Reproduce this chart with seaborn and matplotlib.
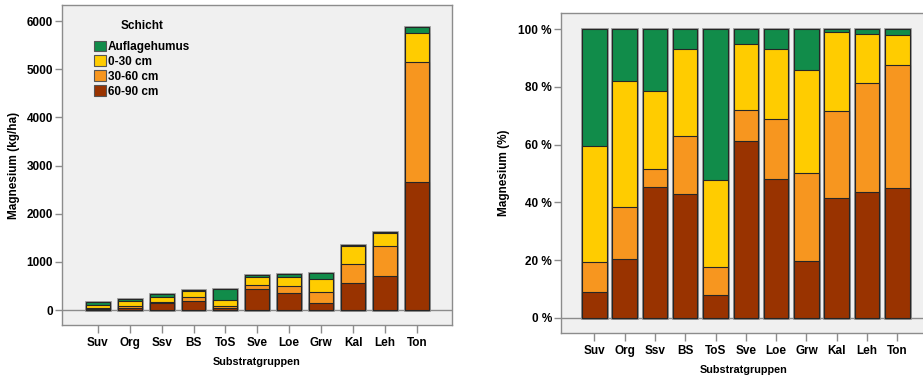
import matplotlib
matplotlib.use("Agg")
import matplotlib.pyplot as plt
import numpy as np
import pandas as pd
import seaborn as sns
from matplotlib.patches import Patch

# ---- data ----
categories = ["Suv", "Org", "Ssv", "BS", "ToS", "Sve", "Loe", "Grw", "Kal", "Leh", "Ton"]
layer_names = ["Auflagehumus", "0-30 cm", "30-60 cm", "60-90 cm"]
mg_60_90 = [15, 47, 154, 178, 36, 443, 356, 150, 560, 704, 2650]
mg_30_60 = [17, 41, 21, 84, 42, 76, 153, 232, 402, 615, 2497]
mg_0_30 = [67, 100, 91, 125, 133, 165, 181, 272, 368, 274, 611]
mg_humus = [67, 41, 73, 28, 232, 37, 50, 107, 13, 26, 118]
abs_ticks = [0, 1000, 2000, 3000, 4000, 5000, 6000]
pct_ticks = [0, 20, 40, 60, 80, 100]
pct_labels = ["0 %", "20 %", "40 %", "60 %", "80 %", "100 %"]

layer_colors = {"Auflagehumus": "#118c4a", "0-30 cm": "#ffcc00",
                "30-60 cm": "#f7961f", "60-90 cm": "#993300"}

df = pd.DataFrame({"Substratgruppen": categories,
                   "60-90 cm": mg_60_90, "30-60 cm": mg_30_60,
                   "0-30 cm": mg_0_30, "Auflagehumus": mg_humus})
stack_order = ["60-90 cm", "30-60 cm", "0-30 cm", "Auflagehumus"]
cum = df[stack_order].cumsum(axis=1)
total = cum["Auflagehumus"]
pct = cum.div(total, axis=0) * 100

plt.rcParams["font.family"] = ["Liberation Sans", "DejaVu Sans"]
plt.rcParams["font.weight"] = "bold"
plt.rcParams["axes.labelweight"] = "bold"

fig = plt.figure(figsize=(9.23, 3.77), dpi=100)
fig.patch.set_facecolor("white")
ax1 = fig.add_axes([0.0672, 0.1379, 0.4225, 0.8488])
ax2 = fig.add_axes([0.6078, 0.1167, 0.3955, 0.8488])

frame_col = "#8c8c8c"
edge_dark = "#262626"


def draw_stack(ax, values, width):
    plot_df = values.copy()
    plot_df["Substratgruppen"] = categories
    # halo around whole bar
    sns.barplot(data=plot_df, x="Substratgruppen", y="Auflagehumus", order=categories,
                color="#9a9a9a", saturation=1, width=width, edgecolor="#9a9a9a",
                linewidth=2.0, errorbar=None, ax=ax)
    for name in ["Auflagehumus", "0-30 cm", "30-60 cm", "60-90 cm"]:
        sns.barplot(data=plot_df, x="Substratgruppen", y=name, order=categories,
                    color=layer_colors[name], saturation=1, width=width,
                    edgecolor=edge_dark, linewidth=0.8, errorbar=None, ax=ax)


for ax in (ax1, ax2):
    ax.set_facecolor("#f0f0f0")
    for sp in ax.spines.values():
        sp.set_color(frame_col)
        sp.set_linewidth(1.0)
    ax.axhline(0, color=frame_col, lw=1.0, zorder=0.5)

draw_stack(ax1, cum, 0.75)
draw_stack(ax2, pct, 0.81)

# left axes
ax1.set_xlim(-1.12, 11.1)
ax1.set_ylim(-311, 6332)
ax1.set_yticks(abs_ticks)
ax1.set_yticklabels([str(t) for t in abs_ticks])
ax1.set_ylabel("Magnesium (kg/ha)", fontsize=8.5)
ax1.set_xlabel("Substratgruppen", fontsize=7.8)
ax1.yaxis.set_label_coords(-0.109, 0.5)
ax1.xaxis.set_label_coords(0.5, -0.10)
ax1.tick_params(axis="y", length=5, width=1, color=frame_col, pad=1.5, labelsize=8.5)
ax1.tick_params(axis="x", length=6, width=1, color=frame_col, pad=2.5, labelsize=8.5)

handles = [Patch(facecolor=layer_colors[n], edgecolor="#555555", linewidth=0.8) for n in layer_names]
leg = ax1.legend(handles, layer_names, loc="upper left",
                 bbox_to_anchor=(0.082, 0.889), frameon=False, borderpad=0,
                 borderaxespad=0, handlelength=1.0, handleheight=1.0,
                 handletextpad=0.2, labelspacing=0.22, fontsize=8.5)
ax1.text(0.206, 0.934, "Schicht", transform=ax1.transAxes, ha="center", va="center",
         fontsize=8.5, fontweight="bold")

# right axes
ax2.set_xlim(-1.1, 10.95)
ax2.set_ylim(-5.2, 105.6)
ax2.set_yticks(pct_ticks)
ax2.set_yticklabels(pct_labels)
ax2.set_ylabel("Magnesium (%)", fontsize=8.5)
ax2.set_xlabel("Substratgruppen", fontsize=7.8)
ax2.yaxis.set_label_coords(-0.1395, 0.5)
ax2.xaxis.set_label_coords(0.5, -0.10)
ax2.tick_params(axis="y", length=5, width=1, color=frame_col, pad=1.5, labelsize=8.5)
ax2.tick_params(axis="x", length=6, width=1, color=frame_col, pad=2.5, labelsize=8.5)

fig.savefig("out.png", dpi=100, facecolor="white")
